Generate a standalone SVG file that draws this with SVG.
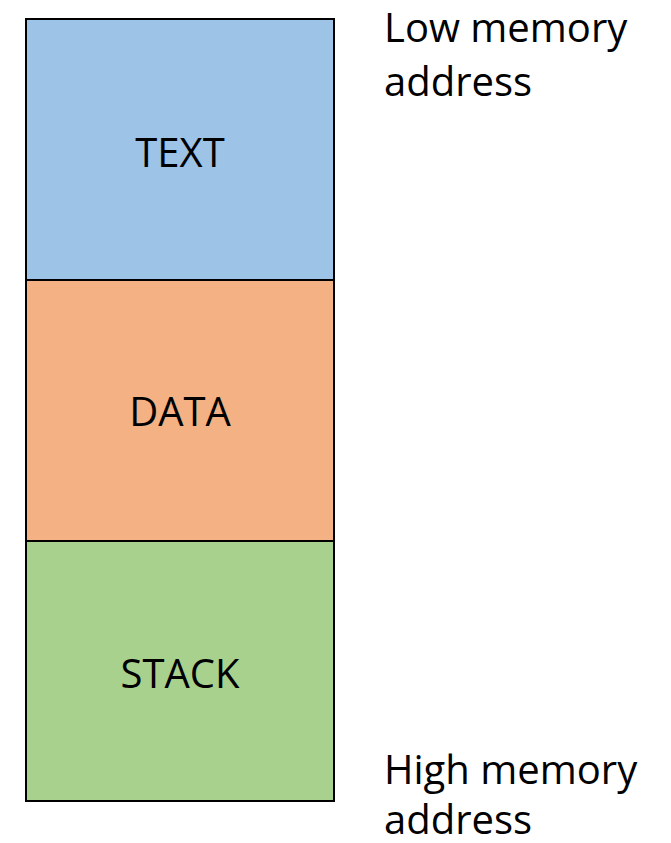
<svg xmlns="http://www.w3.org/2000/svg" width="671" height="843" viewBox="0 0 671 843">
<style>
.box{stroke:#000;stroke-width:2}
.t{font-family:"Open Sans","Liberation Sans",sans-serif;font-size:40px;fill:#000}
.c{text-anchor:middle}
</style>
<rect width="671" height="843" fill="#fff"/>
<g id="text"><rect class="box" x="26" y="19" width="308" height="261" fill="#9DC3E6"/><text class="t c" x="180" y="167">TEXT</text></g>
<g id="data"><rect class="box" x="26" y="280" width="308" height="261" fill="#F4B183"/><text class="t c" x="180" y="426">DATA</text></g>
<g id="stack"><rect class="box" x="26" y="541" width="308" height="260" fill="#A9D18E"/><text class="t c" x="180" y="688">STACK</text></g>
<g id="connectors"/>
<g id="low"><text class="t" x="384" y="42">Low memory</text><text class="t" x="384" y="96">address</text></g>
<g id="high"><text class="t" x="384" y="784">High memory</text><text class="t" x="384" y="834">address</text></g>
</svg>
